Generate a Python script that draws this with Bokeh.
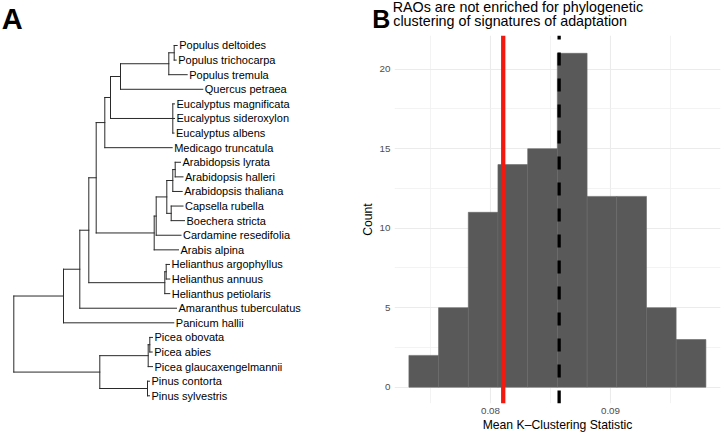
import re
from bokeh.plotting import figure
from bokeh.layouts import row, column
from bokeh.models import Range1d, Span, FixedTicker
from bokeh.embed import file_html
from bokeh.resources import INLINE
from bokeh.core.properties import value

# ---------------- Panel A: phylogeny (Newick with branch lengths) ----------------
POPULUS = "((Populus_deltoides:0.0030,Populus_trichocarpa:0.0020):0.0054,Populus_tremula:0.0184):0.0483"
EUCALYPTUS = "(Eucalyptus_magnificata:0.0017,Eucalyptus_sideroxylon:0.0017,Eucalyptus_albens:0.0012):0.0623"
ARABIDOPSIS = "((Arabidopsis_lyrata:0.0053,Arabidopsis_halleri:0.0078):0.0024,Arabidopsis_thaliana:0.0094):0.0060"
CAPSELLA = "(Capsella_rubella:0.0118,Boechera_stricta:0.0133):0.0044"
HELIANTHUS = "((Helianthus_argophyllus:0.0033,Helianthus_annuus:0.0036):0.0014,Helianthus_petiolaris:0.0050):0.0760"
CONIFERS = ("(((Picea_obovata:0.0027,Picea_abies:0.0024):0.0016,Picea_glaucaxengelmannii:0.0043):0.0484,"
            "(Pinus_contorta:0.0020,Pinus_sylvestris:0.0020):0.0477):0.0860")

BRASSICACEAE = ("(((" + ARABIDOPSIS + "," + CAPSELLA + "):0.0106,Cardamine_resedifolia:0.0248):0.0020,"
                "Arabis_alpina:0.0243):0.0580")
FABIDS = "(((" + POPULUS + ",Quercus_petraea:0.0823):0.0100," + EUCALYPTUS + "):0.0057,Medicago_truncatula:0.0674):0.0086"
ROSIDS = "(" + FABIDS + "," + BRASSICACEAE + "):0.0074"
ANGIOSPERMS = "(((" + ROSIDS + "," + HELIANTHUS + "):0.0090,Amaranthus_tuberculatus:0.0967):0.0163,Panicum_hallii:0.1103):0.0497"
NEWICK = "(" + ANGIOSPERMS + "," + CONIFERS + ");"

# ---------------- Panel B: histogram of the null distribution ----------------
bin_edges = [0.07320, 0.07567, 0.07815, 0.08062, 0.08310, 0.08557,
             0.08805, 0.09052, 0.09300, 0.09547, 0.09795]
counts = [2, 5, 11, 14, 15, 21, 12, 12, 5, 3]
observed_k = 0.08106      # red line
null_mean_k = 0.08572     # dashed line
x_ticks = [0.08, 0.09]
x_minor_ticks = [0.075, 0.085, 0.095]
y_ticks = [0, 5, 10, 15, 20]
y_minor_ticks = [2.5, 7.5, 12.5, 17.5]
title_lines = ["RAOs are not enriched for phylogenetic", "clustering of signatures of adaptation"]
panel_letters = ["A", "B"]
x_label = "Mean K\u2013Clustering Statistic"
y_label = "Count"
x_lim = (0.0720, 0.099167)
y_lim = (-1.025, 22.12)

FONT = "Liberation Sans"


def parse_newick(s):
    s = s.strip().rstrip(";")
    pos = 0

    def node():
        nonlocal pos
        children = []
        if s[pos] == "(":
            pos += 1
            while True:
                children.append(node())
                if s[pos] == ",":
                    pos += 1
                    continue
                pos += 1  # ')'
                break
        name = re.match(r"[^:,()]*", s[pos:]).group(0)
        pos += len(name)
        bl = 0.0
        if pos < len(s) and s[pos] == ":":
            pos += 1
            num = re.match(r"[0-9.eE+-]+", s[pos:]).group(0)
            pos += len(num)
            bl = float(num)
        return {"name": name, "bl": bl, "children": children}

    return node()


tree = parse_newick(NEWICK)
leaves = []


def layout(nd, depth):
    nd["x"] = depth + nd["bl"]
    if not nd["children"]:
        nd["y"] = len(leaves)
        leaves.append(nd)
    else:
        for c in nd["children"]:
            layout(c, nd["x"])
        nd["y"] = sum(c["y"] for c in nd["children"]) / len(nd["children"])


layout(tree, 0.0)

x0s, y0s, x1s, y1s = [], [], [], []


def collect(nd):
    if nd["children"]:
        ys = [c["y"] for c in nd["children"]]
        x0s.append(nd["x"]); y0s.append(min(ys)); x1s.append(nd["x"]); y1s.append(max(ys))
        for c in nd["children"]:
            x0s.append(nd["x"]); y0s.append(c["y"]); x1s.append(c["x"]); y1s.append(c["y"])
            collect(c)


collect(tree)

# ---------- header strip: panel letters and the title of B (pixel-like coordinates) ----------
head = figure(width=721, height=35, x_range=Range1d(0, 721), y_range=Range1d(35, 0),
              output_backend="svg", toolbar_location=None, min_border=0,
              x_axis_location=None, y_axis_location=None)
head.grid.visible = False
head.outline_line_color = None
head.text(x=[1.2], y=[18.0], text=[panel_letters[0]], text_font=value(FONT), text_font_size="29px",
          text_font_style="bold", text_baseline="middle", text_color="black")
head.text(x=[371.8], y=[18.3], text=[panel_letters[1]], text_font=value(FONT), text_font_size="25px",
          text_font_style="bold", text_baseline="middle", text_color="black")
head.text(x=[392.2, 392.8], y=[6.0, 20.7], text=title_lines, text_font=value(FONT),
          text_font_size="14.3px", text_baseline="middle", text_color="black")

# ---------- figure A: tree ----------
pA = figure(width=357, height=399, x_range=Range1d(-0.0133, 0.3437), y_range=Range1d(24.527, -0.685),
            output_backend="svg", toolbar_location=None,
            min_border_left=0, min_border_right=0, min_border_top=0, min_border_bottom=31,
            x_axis_location=None, y_axis_location=None)
pA.grid.visible = False
pA.outline_line_color = None
pA.segment(x0=x0s, y0=y0s, x1=x1s, y1=y1s, line_color="#2a2a2a", line_width=1.0, line_cap="square")
pA.text(x=[lf["x"] for lf in leaves], y=[lf["y"] for lf in leaves],
        text=[lf["name"].replace("_", " ") for lf in leaves],
        x_offset=2, text_baseline="middle", text_align="left",
        text_font=value(FONT), text_font_size="11px", text_color="black")

# ---------- figure B: histogram ----------
pB = figure(width=364, height=399, x_range=Range1d(*x_lim), y_range=Range1d(*y_lim),
            output_backend="svg", toolbar_location=None,
            min_border_left=37, min_border_right=1, min_border_top=0, min_border_bottom=31)
pB.outline_line_color = None
pB.quad(left=bin_edges[:-1], right=bin_edges[1:], bottom=[0] * len(counts), top=counts,
        fill_color="#595959", line_color="#686868", line_width=0.6)
pB.add_layout(Span(location=observed_k, dimension="height", line_color="#F3190E", line_width=4.3))
pB.segment(x0=[null_mean_k], y0=[y_lim[0]], x1=[null_mean_k], y1=[y_lim[1]],
           line_color="black", line_width=3.3, line_dash="13 13", line_cap="butt")

pB.xaxis.ticker = FixedTicker(ticks=x_ticks, minor_ticks=x_minor_ticks)
pB.yaxis.ticker = FixedTicker(ticks=y_ticks, minor_ticks=y_minor_ticks)
for ax in (pB.xaxis[0], pB.yaxis[0]):
    ax.axis_line_color = None
    ax.major_tick_line_color = None
    ax.minor_tick_line_color = None
    ax.major_tick_out = 0
    ax.major_tick_in = 0
    ax.minor_tick_out = 0
    ax.minor_tick_in = 0
    ax.major_label_text_font = FONT
    ax.major_label_text_font_size = "9.8px"
    ax.major_label_text_color = "#4D4D4D"
    ax.major_label_standoff = 4
    ax.axis_label_text_font = FONT
    ax.axis_label_text_font_size = "12.2px"
    ax.axis_label_text_font_style = "normal"
    ax.axis_label_text_color = "black"
pB.xaxis.axis_label = x_label
pB.yaxis.axis_label = y_label
pB.xaxis.axis_label_standoff = 1
pB.yaxis.axis_label_standoff = 2

for g in (pB.xgrid[0], pB.ygrid[0]):
    g.grid_line_color = "#EBEBEB"
    g.grid_line_width = 1.1
    g.minor_grid_line_color = "#F0F0F0"
    g.minor_grid_line_width = 0.8

page = column(head, row(pA, pB))
open("out.html", "w").write(file_html(page, INLINE))
